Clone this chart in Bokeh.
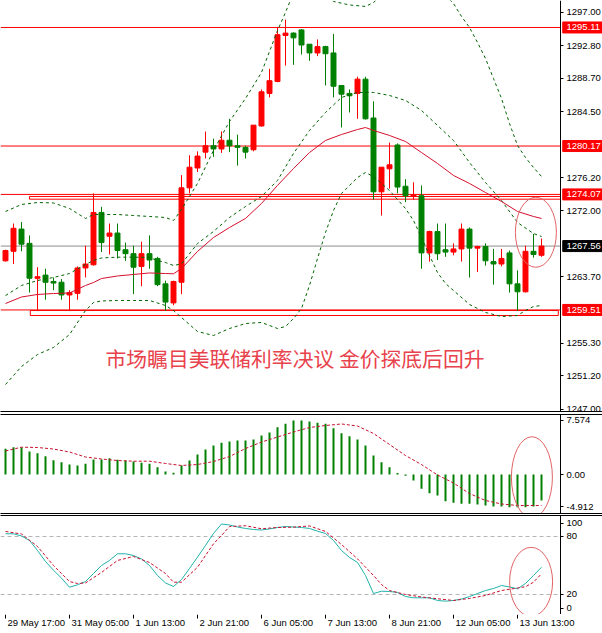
from bokeh.plotting import figure
from bokeh.models import Range1d, LinearAxis, FixedTicker, ColumnDataSource
from bokeh.layouts import column
from bokeh.embed import file_html
from bokeh.resources import INLINE
from bokeh.core.properties import value

# ---------------- data (H4 bars) ----------------
opens = [1265.7, 1266.9, 1269.7, 1267.9, 1263.5, 1263.9, 1263.1, 1263.0, 1261.4, 1261.6,
         1264.8, 1265.2, 1271.8, 1268.8, 1269.2, 1267.1, 1266.6, 1265.0, 1266.6, 1266.0,
         1262.8, 1260.4, 1263.0, 1274.9, 1277.4, 1279.4, 1280.2, 1279.8, 1280.9, 1280.2,
         1280.0, 1279.7, 1282.7, 1286.8, 1288.3, 1294.1, 1294.4, 1294.8, 1293.0, 1291.9,
         1292.7, 1291.9, 1287.8, 1286.8, 1286.8, 1288.6, 1283.7, 1274.4, 1277.3, 1280.3,
         1275.1, 1273.8, 1273.9, 1266.7, 1269.4, 1267.1, 1266.8, 1267.2, 1269.7, 1267.3,
         1267.5, 1265.6, 1265.3, 1266.7, 1262.8, 1261.8, 1266.9, 1266.4]
highs = [1267.1, 1270.4, 1270.6, 1268.9, 1264.9, 1264.7, 1263.6, 1263.4, 1262.0, 1265.0,
         1267.6, 1274.2, 1272.5, 1270.4, 1270.4, 1268.0, 1267.6, 1268.1, 1268.9, 1266.2,
         1263.2, 1263.2, 1276.5, 1279.0, 1279.5, 1282.0, 1281.1, 1282.0, 1283.6, 1281.6,
         1280.2, 1282.8, 1287.3, 1289.9, 1295.1, 1296.1, 1294.5, 1294.9, 1293.0, 1293.6,
         1292.8, 1294.3, 1287.8, 1287.3, 1288.9, 1288.9, 1285.8, 1277.5, 1280.6, 1280.5,
         1276.0, 1275.6, 1275.2, 1269.5, 1270.4, 1270.4, 1267.9, 1270.4, 1269.9, 1267.6,
         1267.9, 1267.2, 1267.2, 1267.0, 1264.5, 1267.6, 1269.1, 1268.5]
lows = [1265.6, 1265.3, 1266.9, 1261.7, 1259.5, 1260.8, 1262.0, 1260.8, 1259.5, 1260.8,
        1263.6, 1265.1, 1266.8, 1266.5, 1266.0, 1265.7, 1261.5, 1262.5, 1264.7, 1262.5,
        1259.4, 1260.1, 1261.5, 1274.2, 1276.9, 1278.6, 1278.8, 1279.3, 1279.4, 1277.7,
        1278.6, 1279.5, 1282.6, 1286.3, 1288.2, 1290.3, 1290.4, 1291.7, 1290.9, 1291.5,
        1287.8, 1286.3, 1282.5, 1284.4, 1283.6, 1283.5, 1273.4, 1271.4, 1274.8, 1274.2,
        1273.1, 1273.4, 1264.7, 1265.6, 1265.8, 1266.2, 1266.4, 1265.6, 1263.6, 1264.3,
        1265.1, 1262.7, 1265.0, 1261.7, 1259.4, 1261.7, 1266.1, 1266.2]
closes = [1267.0, 1269.8, 1267.8, 1263.5, 1263.7, 1263.0, 1262.9, 1261.4, 1261.7, 1264.8,
          1265.3, 1271.8, 1268.0, 1269.2, 1267.0, 1266.6, 1264.9, 1266.6, 1265.8, 1262.7,
          1260.5, 1263.1, 1274.9, 1277.5, 1278.9, 1280.2, 1279.8, 1280.9, 1280.2, 1280.0,
          1279.4, 1282.8, 1287.0, 1288.4, 1294.2, 1294.4, 1293.8, 1292.9, 1291.9, 1292.7,
          1291.8, 1287.7, 1286.7, 1286.5, 1288.6, 1283.6, 1274.4, 1277.5, 1277.8, 1275.0,
          1273.9, 1274.0, 1266.7, 1269.4, 1266.6, 1266.8, 1267.2, 1269.7, 1267.3, 1267.5,
          1265.7, 1265.3, 1266.0, 1262.8, 1261.8, 1266.9, 1266.5, 1267.56]

bb_up_idx = [0, 2, 4, 6, 8, 10, 11, 12, 14, 16, 18, 20, 21, 22, 24, 26, 28, 30, 32, 34, 35, 36,
             37, 38, 39, 40, 41, 43, 45, 46, 47, 48, 50, 52, 54, 55, 56, 57, 58, 59, 60, 61,
             62, 63, 64, 65, 66, 67]
bb_up = [1271.92, 1272.80, 1273.05, 1272.99, 1272.30, 1271.04, 1271.54, 1271.54, 1271.54,
         1271.41, 1271.29, 1271.16, 1270.78, 1272.17, 1275.45, 1279.61, 1283.26, 1286.16,
         1289.44, 1294.73, 1297.00, 1299.52, 1300.78, 1301.03, 1300.40, 1299.14, 1298.39,
         1297.95, 1297.76, 1298.26, 1299.14, 1300.40, 1301.66, 1301.66, 1300.40, 1299.14,
         1298.13, 1296.50, 1295.11, 1293.22, 1291.20, 1288.68, 1286.16, 1283.01, 1280.24,
         1278.72, 1277.46, 1276.33]
bb_mid_idx = [0, 2, 4, 6, 8, 10, 11, 12, 14, 16, 18, 19, 20, 21, 22, 24, 26, 28, 30, 32, 34,
              36, 38, 40, 42, 44, 46, 48, 50, 52, 54, 56, 58, 60, 62, 64, 66, 67]
bb_mid = [1261.33, 1262.59, 1263.22, 1263.60, 1264.10, 1265.24, 1265.74, 1266.06, 1266.16,
          1266.16, 1266.12, 1265.74, 1265.49, 1265.11, 1265.32, 1267.88, 1269.40, 1271.16,
          1272.55, 1273.81, 1275.83, 1279.23, 1282.13, 1284.40, 1286.29, 1286.92, 1286.92,
          1286.54, 1285.91, 1284.65, 1282.76, 1280.87, 1278.09, 1275.57, 1273.30, 1270.53,
          1269.14, 1268.77]
bb_low_idx = [0, 2, 4, 6, 8, 10, 11, 12, 14, 16, 18, 20, 21, 22, 24, 26, 28, 30, 32, 34, 35,
              36, 37, 38, 39, 40, 41, 42, 44, 45, 46, 48, 50, 51, 52, 53, 54, 55, 56, 58, 60,
              62, 64, 65, 66, 67]
bb_low = [1250.11, 1252.38, 1253.89, 1254.78, 1256.41, 1259.44, 1260.45, 1260.64, 1260.70,
          1260.70, 1260.70, 1260.07, 1259.44, 1258.56, 1256.79, 1256.29, 1257.17, 1257.80,
          1257.93, 1257.17, 1257.42, 1258.43, 1259.69, 1262.59, 1265.99, 1269.27, 1272.04,
          1274.19, 1276.20, 1276.83, 1276.33, 1274.56, 1272.30, 1270.78, 1268.64, 1266.37,
          1264.23, 1262.84, 1261.96, 1260.20, 1259.19, 1258.68, 1258.81, 1259.44, 1259.94,
          1260.07]
ma_idx = [0, 2, 4, 6, 8, 10, 11, 12, 14, 16, 18, 20, 21, 22, 24, 26, 28, 30, 32, 34, 36, 38,
          40, 42, 44, 45, 46, 48, 50, 52, 54, 56, 58, 60, 62, 64, 66, 67]
ma_red = [1260.32, 1261.14, 1261.46, 1261.58, 1261.65, 1262.59, 1262.97, 1263.47, 1263.79,
          1263.98, 1264.17, 1264.10, 1264.07, 1264.73, 1266.88, 1268.64, 1269.90, 1271.04,
          1272.93, 1275.20, 1277.33, 1279.35, 1280.87, 1281.62, 1282.25, 1282.50, 1282.13,
          1281.50, 1280.74, 1279.35, 1277.97, 1276.46, 1275.45, 1274.31, 1273.18, 1271.92,
          1271.29, 1271.04]

macd_hist = [3.24, 3.45, 3.40, 2.90, 2.69, 2.31, 1.80, 1.55, 1.26, 1.14,
             1.35, 1.89, 1.89, 2.06, 1.86, 1.77, 1.64, 1.48, 1.35, 0.92,
             0.38, 0.21, 1.14, 1.77, 2.53, 3.16, 3.66, 4.00, 4.17, 4.29,
             4.29, 4.42, 4.92, 5.30, 5.97, 6.40, 6.82, 6.82, 6.69, 6.53,
             6.40, 5.85, 5.21, 4.84, 4.42, 3.66, 2.40, 1.55, 0.92, 0.20,
             -0.15, -0.76, -1.81, -2.36, -2.65, -3.37, -3.57, -3.70, -3.70, -3.79,
             -3.91, -4.04, -4.04, -4.13, -4.13, -4.13, -4.04, -3.28]
sig_idx = [0, 2, 4, 6, 8, 10, 12, 14, 16, 18, 20, 22, 24, 26, 28, 30, 32, 34, 36, 38, 40,
           42, 44, 46, 48, 50, 52, 54, 56, 58, 60, 62, 64, 66, 67]
macd_signal = [2.97, 3.45, 3.41, 3.22, 2.84, 2.21, 1.96, 1.77, 1.68, 1.68, 1.39, 1.14, 1.26,
               1.64, 2.27, 3.28, 4.10, 4.73, 5.37, 5.93, 6.19, 6.38, 6.12, 5.18, 3.79, 2.40,
               1.26, -0.06, -1.07, -2.40, -3.28, -3.72, -3.91, -3.91, -3.91]

stoch_k = [82.8, 82.8, 80.5, 75.9, 65.5, 54.1, 45.1, 36.9, 27.5, 30.0,
           33.4, 41.7, 50.0, 55.2, 62.1, 62.1, 60.3, 56.7, 50.0, 39.7,
           31.9, 28.3, 35.5, 46.9, 58.6, 70.7, 83.1, 92.9, 91.9, 89.8,
           88.3, 87.2, 86.7, 87.8, 89.3, 90.3, 89.8, 89.3, 88.3, 85.5,
           83.1, 75.9, 65.5, 58.3, 53.1, 39.7, 21.0, 23.4, 23.1, 22.1,
           17.9, 16.6, 16.6, 16.6, 13.8, 13.1, 13.8, 15.3, 17.9, 21.0,
           24.1, 26.2, 29.3, 27.8, 25.9, 31.4, 39.7, 48.2]
d_idx = [0, 2, 4, 6, 8, 9, 10, 12, 14, 16, 18, 20, 21, 22, 24, 26, 27, 28, 30, 32, 34, 36,
         38, 40, 42, 44, 46, 47, 48, 50, 52, 54, 56, 58, 60, 62, 64, 65, 66, 67]
stoch_d = [85.2, 82.6, 69.7, 50.0, 33.4, 31.4, 31.9, 42.8, 55.2, 59.3, 53.1, 41.7, 32.7,
           32.7, 48.2, 72.4, 81.0, 90.3, 91.1, 88.0, 89.3, 89.6, 90.9, 85.2, 71.7, 56.9,
           39.7, 30.3, 24.1, 20.0, 17.4, 15.6, 13.8, 15.9, 19.0, 24.1, 26.7, 28.0, 32.7, 41.4]

red_levels = [1295.11, 1280.17, 1274.07, 1259.51]
bid_level = 1267.56
rect_top = [1273.81, 1259.44]
rect_bottom = [1273.47, 1258.81]
rect_left = [3.0, 3.1]
rect_right = [69.375, 69.1]
price_ticks = [1247.0, 1251.2, 1255.3, 1263.7, 1272.0, 1276.2, 1284.5, 1288.7, 1292.8, 1297.0]
macd_ticks = [-4.04, 0.0, 6.82]
macd_tick_text = ["-4.912", "0.00", "7.574"]
stoch_ticks = [5.8, 20.0, 80.0, 93.8]
stoch_tick_text = ["0", "20", "80", "100"]
stoch_levels = [20, 80]
date_idx = [0, 8, 16, 24, 32, 40, 48, 56, 64]
date_text = ["29 May 17:00", "31 May 05:00", "1 Jun 13:00", "2 Jun 21:00", "6 Jun 05:00",
             "7 Jun 13:00", "8 Jun 21:00", "12 Jun 05:00", "13 Jun 13:00"]
headline = "市场瞩目美联储利率决议 金价探底后回升"
headline_pos = (12.5, 1253.4)
ell_main = (66.3, 1269.3)
ell_macd = (65.8, -0.34)
ell_stoch = (65.7, 33.1)

# ---------------- styling / geometry ----------------
RED = "#ff0000"
GREEN = "#008000"
FONT = "Liberation Sans"
FS = "9.5px"
W = 602
X0 = -0.625
AXIS_X = 69.375          # bar index where the price scale sits
PXU = 8.0                # pixels per bar
xr = Range1d(X0, X0 + W / PXU)
BOX_CX = AXIS_X + (22.25 / PXU)


def make_fig(fh, y0, y1, top, bottom):
    p = figure(frame_width=W, frame_height=fh, x_range=xr, y_range=Range1d(y0, y1),
               output_backend="svg", toolbar_location=None,
               x_axis_location=None, y_axis_location="right",
               min_border_left=0, min_border_right=0,
               min_border_top=top, min_border_bottom=bottom)
    p.outline_line_color = None
    p.grid.visible = False
    ax = p.yaxis[0]
    ax.fixed_location = AXIS_X
    ax.axis_line_color = "black"
    ax.major_tick_out = 3
    ax.major_tick_in = 0
    ax.minor_tick_line_color = None
    ax.major_tick_line_color = "black"
    ax.major_label_standoff = 3
    ax.major_label_text_font = FONT
    ax.major_label_text_font_size = FS
    ax.major_label_text_color = "black"
    return p


def line_axis(p, side):
    a = LinearAxis(ticker=FixedTicker(ticks=[]), axis_line_color="black",
                   major_tick_out=0, major_tick_in=0, minor_tick_out=0, minor_tick_in=0,
                   major_label_text_font_size="0px", major_label_standoff=0)
    p.add_layout(a, side)


def hline(p, levels, **kw):
    p.segment(x0=[X0] * len(levels), x1=[AXIS_X] * len(levels), y0=levels, y1=levels, **kw)


def price_box(p, levels, fill):
    p.rect(x=[BOX_CX] * len(levels), y=levels, width=40, height=11, width_units="screen",
           height_units="screen", fill_color=fill, line_color=fill)
    p.text(x=[AXIS_X] * len(levels), y=levels, text=[f"{v:.2f}" for v in levels],
           x_offset=6, text_color="white", text_font=value(FONT), text_font_size=FS,
           text_align="left", text_baseline="middle")


# ---------------- main panel ----------------
p1 = make_fig(411, 1246.71, 1298.51, 0, 2)
p1.yaxis[0].ticker = FixedTicker(ticks=price_ticks)
p1.yaxis[0].major_label_overrides = {t: f"{t:.2f}" for t in price_ticks}
line_axis(p1, "below")

hline(p1, red_levels, line_color=RED, line_width=1)
hline(p1, [bid_level], line_color="#8c8c8c", line_width=1)
p1.quad(left=rect_left, right=rect_right, top=rect_top, bottom=rect_bottom,
        fill_color="white", fill_alpha=0.0, line_color=RED, line_width=1)

idx = list(range(len(opens)))
cols = [RED if c >= o else GREEN for o, c in zip(opens, closes)]
src = ColumnDataSource(dict(x=idx, h=highs, l=lows,
                            top=[max(o, c) for o, c in zip(opens, closes)],
                            bot=[min(o, c) for o, c in zip(opens, closes)], col=cols))
p1.segment(x0="x", y0="l", x1="x", y1="h", line_color="col", line_width=1, source=src)
p1.vbar(x="x", width=0.62, top="top", bottom="bot", fill_color="col", line_color="col",
        line_width=1, source=src)

p1.line(bb_up_idx, bb_up, line_color="#006400", line_dash="3 3", line_width=1)
p1.line(bb_mid_idx, bb_mid, line_color="#006400", line_dash="3 3", line_width=1)
p1.line(bb_low_idx, bb_low, line_color="#006400", line_dash="3 3", line_width=1)
p1.line(ma_idx, ma_red, line_color="#d4102c", line_width=1)

p1.ellipse(x=[ell_main[0]], y=[ell_main[1]], width=41, height=70, width_units="screen",
           height_units="screen", fill_color=None, line_color="#e06464", line_width=1)
p1.text(x=[headline_pos[0]], y=[headline_pos[1]], text=[headline], text_color="#e8424c",
        text_font=value("Noto Sans CJK SC"), text_font_size="20.8px",
        text_align="left", text_baseline="middle")

price_box(p1, red_levels, RED)
price_box(p1, [bid_level], "black")

# ---------------- MACD panel ----------------
p2 = make_fig(99, -4.92, 7.576, 1, 1)
p2.yaxis[0].ticker = FixedTicker(ticks=macd_ticks)
p2.yaxis[0].major_label_overrides = dict(zip(macd_ticks, macd_tick_text))
line_axis(p2, "above")
line_axis(p2, "below")
p2.vbar(x=idx, width=0.25, top=macd_hist, bottom=0, fill_color=GREEN, line_color=None)
p2.line(sig_idx, macd_signal, line_color="#c8102e", line_dash="3 2", line_width=1)
p2.ellipse(x=[ell_macd[0]], y=[ell_macd[1]], width=41, height=81, width_units="screen",
           height_units="screen", fill_color=None, line_color="#e06464", line_width=1)

# ---------------- Stochastic panel ----------------
p3 = make_fig(99, -0.69, 101.7, 1, 0)
p3.yaxis[0].ticker = FixedTicker(ticks=stoch_ticks)
p3.yaxis[0].major_label_overrides = dict(zip(stoch_ticks, stoch_tick_text))
line_axis(p3, "above")
hline(p3, stoch_levels, line_color="#b4b4b4", line_dash="4 3", line_width=1)
p3.line(idx, stoch_k, line_color="#20b2aa", line_width=1)
p3.line(d_idx, stoch_d, line_color="#c8102e", line_dash="3 2", line_width=1)
p3.ellipse(x=[ell_stoch[0]], y=[ell_stoch[1]], width=43, height=69, width_units="screen",
           height_units="screen", fill_color=None, line_color="#e06464", line_width=1)

# ---------------- time scale strip ----------------
p4 = figure(frame_width=W, frame_height=19, x_range=xr, y_range=Range1d(0, 19),
            output_backend="svg", toolbar_location=None,
            x_axis_location=None, y_axis_location=None,
            min_border_left=0, min_border_right=0, min_border_top=0, min_border_bottom=0)
p4.outline_line_color = None
p4.grid.visible = False
p4.segment(x0=date_idx, x1=date_idx, y0=[19] * len(date_idx), y1=[15] * len(date_idx),
           line_color="black", line_width=1)
p4.text(x=date_idx, y=[11] * len(date_idx), text=date_text, x_offset=2,
        text_font=value(FONT), text_font_size=FS, text_color="black",
        text_align="left", text_baseline="middle")

layout = column(p1, p2, p3, p4, spacing=0)
open("out.html", "w").write(file_html(layout, INLINE))
